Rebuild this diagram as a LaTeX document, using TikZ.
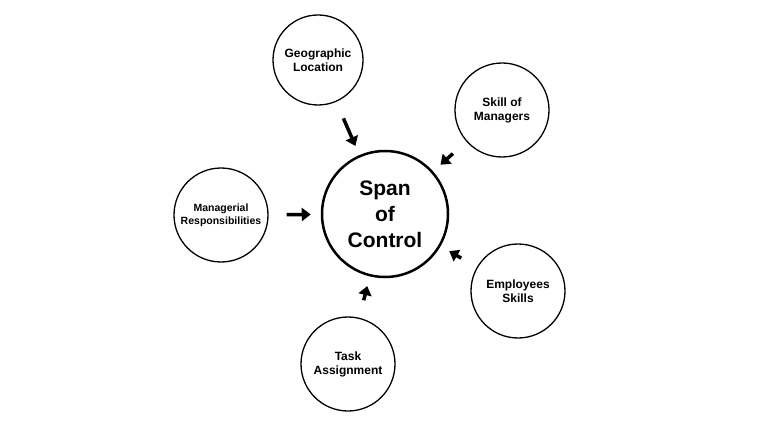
\documentclass[tikz,border=0pt]{standalone}
\usepackage{fontspec}
\setmainfont{Liberation Sans}
\usetikzlibrary{arrows.meta}
\begin{document}
\begin{tikzpicture}[x=1pt,y=-1pt,
  sat/.style={circle,draw,line width=1.3pt,minimum size=94pt,inner sep=0pt,align=center,font=\bfseries\fontsize{12}{14}\selectfont},
  hub/.style={circle,draw,line width=2.5pt,minimum size=126pt,inner sep=0pt,align=center,font=\bfseries\fontsize{21}{26}\selectfont},
  arr/.style={line width=3.5pt,-{Triangle[width=13pt,length=9pt]},shorten <=18pt,shorten >=10pt}]
\useasboundingbox (0,0) rectangle (768,422);
\node[hub] (c) at (385,214) {Span\\of\\Control};
\node[sat,minimum size=90pt] (g) at (318,60) {Geographic\\Location};
\node[sat] (s) at (502,110) {Skill of\\Managers};
\node[sat,font=\bfseries\fontsize{10.5}{13}\selectfont] (m) at (221,215) {Managerial\\Responsibilities};
\node[sat] (e) at (518,291) {Employees\\Skills};
\node[sat] (t) at (348,364) {Task\\Assignment};
\foreach \n in {g,s,m,e,t} \draw[arr] (\n) -- (c);
\end{tikzpicture}
\end{document}
